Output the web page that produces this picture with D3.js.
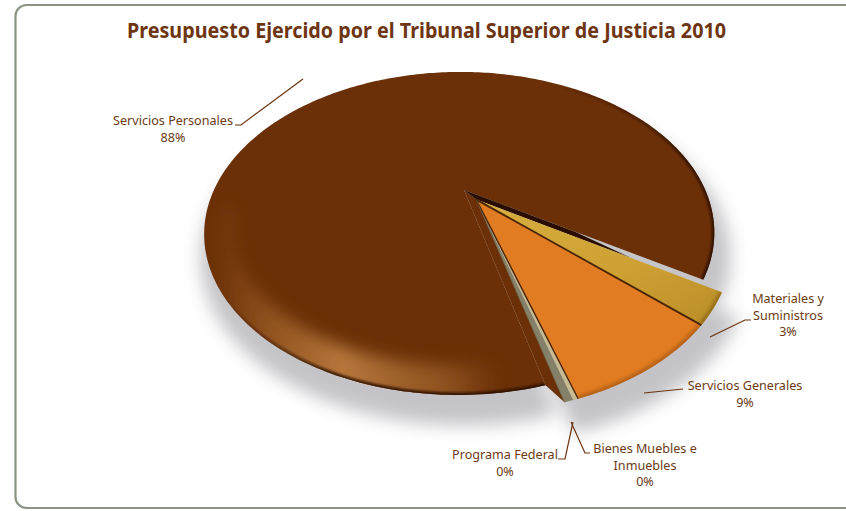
<!DOCTYPE html>
<html><head><meta charset="utf-8">
<script src="https://cdnjs.cloudflare.com/ajax/libs/d3/7.8.5/d3.min.js"></script>
<style>html,body{margin:0;background:#fff}svg{display:block}
text{font-family:"Noto Sans","Open Sans",sans-serif}</style></head><body>
<svg id="c" width="846" height="511"></svg>
<script>
const titleText = "Presupuesto Ejercido por el Tribunal Superior de Justicia 2010";
const categories = ["Materiales y Suministros","Servicios Generales","Bienes Muebles e Inmuebles","Programa Federal","Servicios Personales"];
const values = [3.0,8.55,0.25,0.45,87.75];
const percents = ["3%","9%","0%","0%","88%"];
const labelLines = [["Materiales y","Suministros","3%"],["Servicios Generales","9%"],["Bienes Muebles e","Inmuebles","0%"],["Programa Federal","0%"],["Servicios Personales","88%"]];
const colors = ["#cc9f34","#e27c22","#c8bb92","#85806a","#6b3007"];
const labelPos = [[788,303],[745,390],[645,453],[505,459],[173,125]];
const leaders = [
 [[710,337],[745,320],[751,320]],
 [[644,393],[683,389]],
 [[571,422],[585,453],[590,453]],
 [[573,422],[565,459],[558,459]],
 [[303,79],[241,125],[235,125]]];

const svg = d3.select("#c"), defs = svg.append("defs");
const rad = Math.PI/180, A0 = 120*rad, groupRot = 1.5*rad, mainRot = 1.6*rad, explode = 0.08, mainIdx = 4;
const K=-0.269, M=0.018, AX=245.6, AY=149.8, CX=464, CY=190;
const proj=(u,v)=>{const w=1+K*v+M*u;return [CX+AX*u/w, CY+AY*v/w];};
const arcs = d3.pie().sort(null).value(d=>d).startAngle(A0).endAngle(A0+2*Math.PI)(values);
const groupMid = (arcs[0].startAngle+arcs[3].endAngle)/2;
const off = i => i===mainIdx?[0,0]:[explode*Math.sin(groupMid),-explode*Math.cos(groupMid)];
const rot = i => i===mainIdx?mainRot:groupRot;
const rim = (i,t,f=1)=>{const [ox,oy]=off(i),a=t+rot(i);return proj(ox+f*Math.sin(a),oy-f*Math.cos(a));};
const line = d3.line();
const rimPts=(i,a,b,f=1)=>{const n=Math.max(3,Math.ceil((b-a)*60));return d3.range(n+1).map(k=>rim(i,a+(b-a)*k/n,f));};
const path=(d,i)=>line([rim(i,d.startAngle,0),...rimPts(i,d.startAngle,d.endAngle)])+"Z";
function blur(id,s){defs.append("filter").attr("id",id).attr("x","-30%").attr("y","-30%").attr("width","160%").attr("height","160%")
  .append("feGaussianBlur").attr("stdDeviation",s);}
blur("b9",8);blur("b6",8);blur("b2",2);blur("b1",1);blur("b05",0.5);
function grad(id,x1,y1,x2,y2,stops){const g=defs.append("linearGradient").attr("id",id).attr("x1",x1).attr("y1",y1).attr("x2",x2).attr("y2",y2);
  stops.forEach(s=>g.append("stop").attr("offset",s[0]).attr("stop-color",s[1]).attr("stop-opacity",s[2]));}
grad("hl",0,0,1,0,[[0,"#b87636",0],[0.2,"#b87636",0.5],[0.45,"#c58446",0.85],[0.8,"#a86a30",0.6],[1,"#a86a30",0]]);
grad("edge",0,0,1,1,[[0,"#2c1000",0],[0.36,"#2c1000",0],[0.6,"#2c1000",0.85],[1,"#2c1000",1]]);
grad("yellow",0,0,1,1,[[0,"#d6af3e",1],[0.6,"#cda033",1],[1,"#b98e28",1]]);

svg.append("rect").attr("x",15.5).attr("y",5).attr("width",860).attr("height",503).attr("rx",11)
  .attr("fill","#fff").attr("stroke","#8b9384").attr("stroke-width",2.2);

svg.append("g").attr("transform","translate(459,233) scale(1.035) translate(-459,-233) translate(6,23)")
  .attr("filter","url(#b9)").selectAll("path").data(arcs).join("path").attr("d",path)
  .attr("fill","#c4c4c8").attr("stroke","#c4c4c8").attr("stroke-width",2);

const g=svg.append("g");
arcs.forEach((d,i)=>defs.append("clipPath").attr("id","cl"+i).append("path").attr("d",path(d,i)));
const M_=arcs[mainIdx];
g.append("path").attr("d",line([rim(mainIdx,M_.startAngle,0),rim(3,arcs[3].endAngle,0),rim(3,arcs[3].endAngle),rim(mainIdx,M_.startAngle)])+"Z").attr("fill",colors[mainIdx]);
g.append("path").attr("d",path(M_,mainIdx)).attr("fill",colors[mainIdx]);
const mg=g.append("g").attr("clip-path","url(#cl"+mainIdx+")");
mg.append("path").attr("d",line(rimPts(mainIdx,172*rad,262*rad,0.97))).attr("fill","none").attr("stroke","url(#hl)").attr("stroke-width",42).attr("filter","url(#b6)");
mg.append("path").attr("d",line(rimPts(mainIdx,M_.startAngle,M_.endAngle))).attr("fill","none").attr("stroke","url(#edge)").attr("stroke-width",5).attr("filter","url(#b1)");

g.append("path").attr("d",line([rim(mainIdx,arcs[0].startAngle,0),rim(0,arcs[0].startAngle,0),rim(0,arcs[0].startAngle,0.66),rim(mainIdx,arcs[0].startAngle,0.5)])+"Z")
  .attr("fill","#2a1000").attr("filter","url(#b05)");

const fills=["url(#yellow)",colors[1],colors[2],colors[3]];
[3,2,1,0].forEach(i=>{
  const p=path(arcs[i],i);
  g.append("path").attr("d",p).attr("fill",fills[i]);
  if(i<2){
    g.append("g").attr("clip-path","url(#cl"+i+")").append("path").attr("d",line(rimPts(i,arcs[i].startAngle,arcs[i].endAngle)))
      .attr("fill","none").attr("stroke",i===0?"#8a6414":"#a85a12").attr("stroke-width",5).attr("filter","url(#b2)");
  }
});
[[0,"#4a2406",1.8],[1,"#4a2406",1.4],[3,"#6a5c3c",0.8]].forEach(([i,c,w])=>{
  g.append("path").attr("d",line([rim(i,arcs[i].endAngle,0),rim(i,arcs[i].endAngle)])).attr("stroke",c).attr("stroke-width",w).attr("fill","none");
});

svg.append("g").selectAll("path").data(leaders).join("path").attr("d",d=>line(d))
  .attr("fill","none").attr("stroke","#6b3410").attr("stroke-width",1.2);

const lab=svg.append("g").attr("font-size",12.6).attr("fill","#6b3a14").attr("text-anchor","middle");
labelLines.forEach((ls,i)=>ls.forEach((t,j)=>lab.append("text").attr("x",labelPos[i][0]).attr("y",labelPos[i][1]+j*16.5).text(t)));
svg.append("text").attr("x",426.5).attr("y",38).attr("text-anchor","middle").attr("font-size",20.5).attr("font-weight","bold").attr("fill","#6e3512")
  .attr("textLength",599).attr("lengthAdjust","spacingAndGlyphs").text(titleText);
</script></body></html>
